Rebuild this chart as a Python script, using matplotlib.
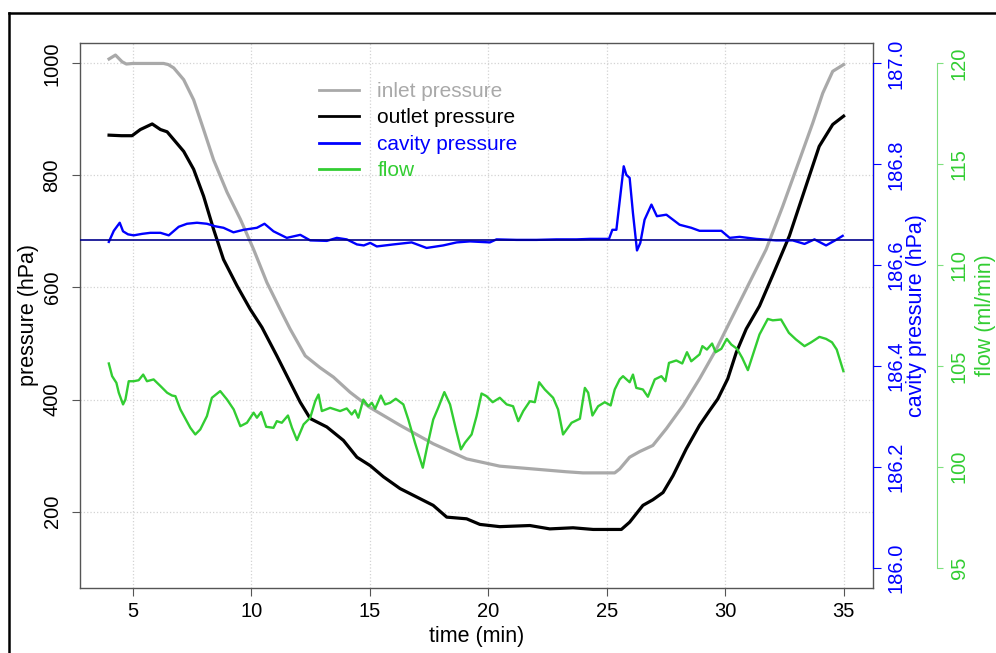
import matplotlib
matplotlib.use("Agg")
import matplotlib.pyplot as plt
from matplotlib.lines import Line2D
from matplotlib.ticker import FormatStrFormatter

plt.rcParams['font.family'] = ['Liberation Sans', 'DejaVu Sans']

# inlet pressure (hPa) over time (min)
t_inlet = [4.00, 4.27, 4.55, 4.73, 5.00, 6.30, 6.50, 6.73, 7.15, 7.57, 7.99, 8.41, 8.98,
           9.54, 10.10, 10.66, 11.22, 11.64, 12.28, 12.90, 13.47, 14.17, 15.00,
           16.28, 17.68, 19.09, 20.49, 21.90, 23.30, 24.00, 25.34, 25.55, 25.97,
           26.39, 26.95, 27.52, 28.22, 28.92, 29.63, 30.05, 31.03, 31.73, 32.43,
           33.14, 33.70, 34.12, 34.54, 35.00]
p_inlet = [1008, 1015, 1003, 999, 1000, 1000, 998, 992, 971, 935, 882, 828, 770,
           722, 668, 609, 561, 526, 478, 457, 440, 413, 386,
           354, 321, 294, 281, 276, 271, 269, 269, 276, 297,
           307, 318, 348, 389, 437, 490, 526, 609, 668, 745,
           828, 894, 947, 986, 998]

# outlet pressure (hPa)
t_outlet = [4.00, 4.52, 4.97, 5.32, 5.82, 6.17, 6.45, 6.73, 7.15, 7.57, 7.99, 8.41,
            8.83, 9.40, 9.96, 10.45, 11.08, 11.64, 12.07, 12.49, 13.19, 13.89,
            14.46, 15.02, 15.58, 16.28, 16.98, 17.68, 18.25, 19.09, 19.65, 20.49,
            21.76, 22.60, 23.58, 24.43, 25.62, 25.97, 26.53, 26.95, 27.38, 27.80,
            28.36, 28.92, 29.34, 29.69, 30.11, 30.47, 30.89, 31.45, 32.00, 32.71,
            33.41, 33.97, 34.54, 35.00]
p_outlet = [872, 871, 871, 882, 892, 882, 878, 864, 843, 811, 763, 704,
            650, 603, 561, 529, 478, 431, 395, 366, 351, 327,
            297, 282, 262, 241, 226, 211, 190, 187, 177, 173,
            175, 169, 171, 168, 168, 181, 211, 221, 234, 264,
            312, 354, 380, 401, 437, 484, 526, 567, 621, 692,
            781, 852, 891, 906]

# cavity pressure (hPa)
t_cavity = [3.99, 4.20, 4.45, 4.59, 4.80, 5.04, 5.40, 5.74, 6.17, 6.52, 6.94, 7.29,
            7.71, 8.13, 8.48, 8.83, 9.25, 9.68, 10.24, 10.56, 10.94, 11.50,
            12.07, 12.49, 13.19, 13.61, 14.03, 14.46, 14.75, 15.02, 15.30, 16.00,
            16.77, 17.40, 18.10, 18.67, 19.23, 20.07, 20.35, 21.20, 22.04, 22.88,
            23.73, 24.29, 25.10, 25.24, 25.41, 25.72, 25.83, 25.97, 26.11, 26.28,
            26.42, 26.60, 26.89, 27.12, 27.52, 28.08, 28.57, 28.92, 29.84, 30.19,
            30.61, 31.31, 32.15, 32.85, 33.35, 33.77, 34.26, 34.68, 34.96]
p_cavity = [186.646, 186.668, 186.684, 186.667, 186.661, 186.659, 186.662, 186.664,
            186.664, 186.659, 186.676, 186.682, 186.684, 186.682, 186.677, 186.674,
            186.665, 186.670, 186.674, 186.682, 186.667, 186.654, 186.660, 186.649,
            186.648, 186.654, 186.651, 186.641, 186.639, 186.644, 186.637, 186.641,
            186.645, 186.634, 186.639, 186.645, 186.647, 186.645, 186.651, 186.650,
            186.650, 186.651, 186.651, 186.652, 186.652, 186.670, 186.670, 186.796,
            186.779, 186.773, 186.703, 186.629, 186.644, 186.690, 186.720, 186.697,
            186.700, 186.680, 186.674, 186.668, 186.668, 186.654, 186.656, 186.652,
            186.649, 186.649, 186.642, 186.651, 186.639, 186.650, 186.658]
cavity_ref = 186.65

# flow (ml/min)
t_flow = [3.99, 4.13, 4.31, 4.41, 4.59, 4.69, 4.83, 5.04, 5.25, 5.44, 5.60, 5.88,
          6.17, 6.45, 6.66, 6.80, 7.01, 7.22, 7.43, 7.64, 7.85, 8.13, 8.34, 8.69,
          8.98, 9.26, 9.54, 9.82, 10.10, 10.24, 10.42, 10.63, 10.94, 11.08, 11.29,
          11.55, 11.72, 11.93, 12.21, 12.49, 12.70, 12.84, 12.98, 13.33, 13.75,
          14.03, 14.24, 14.38, 14.52, 14.73, 14.94, 15.09, 15.23, 15.47, 15.65,
          15.86, 16.10, 16.42, 16.63, 16.91, 17.24, 17.43, 17.68, 17.89, 18.15,
          18.39, 18.64, 18.85, 19.02, 19.30, 19.51, 19.72, 19.93, 20.19, 20.49,
          20.78, 21.05, 21.27, 21.48, 21.76, 21.97, 22.15, 22.39, 22.74, 22.95,
          23.16, 23.52, 23.87, 24.08, 24.22, 24.40, 24.64, 24.92, 25.17, 25.34,
          25.55, 25.69, 25.97, 26.11, 26.25, 26.53, 26.74, 27.03, 27.31, 27.48,
          27.63, 27.94, 28.19, 28.39, 28.57, 28.92, 29.04, 29.23, 29.45, 29.60,
          29.84, 30.07, 30.26, 30.50, 30.72, 30.96, 31.20, 31.45, 31.80, 32.01,
          32.36, 32.69, 32.99, 33.35, 33.63, 33.98, 34.26, 34.51, 34.71, 34.99]
flow = [105.12, 104.49, 104.16, 103.67, 103.09, 103.33, 104.24, 104.24, 104.29,
        104.57, 104.24, 104.33, 104.00, 103.67, 103.53, 103.50, 102.84, 102.38,
        101.93, 101.60, 101.85, 102.51, 103.42, 103.75, 103.33, 102.84, 102.01,
        102.18, 102.68, 102.43, 102.71, 101.98, 101.93, 102.26, 102.18, 102.54,
        101.93, 101.32, 102.10, 102.43, 103.25, 103.58, 102.76, 102.92, 102.76,
        102.89, 102.59, 102.80, 102.43, 103.33, 103.00, 103.17, 102.87, 103.53,
        103.09, 103.17, 103.37, 103.09, 102.34, 101.19, 99.95, 101.02, 102.34,
        102.92, 103.70, 103.09, 101.85, 100.86, 101.19, 101.60, 102.51, 103.63,
        103.50, 103.20, 103.42, 103.09, 103.00, 102.26, 102.76, 103.25, 103.20,
        104.19, 103.83, 103.42, 102.84, 101.60, 102.18, 102.38, 103.91, 103.67,
        102.54, 103.00, 103.20, 103.04, 103.83, 104.33, 104.49, 104.19, 104.57,
        103.91, 103.83, 103.47, 104.33, 104.49, 104.24, 105.15, 105.27, 105.12,
        105.68, 105.23, 105.57, 105.98, 105.81, 106.11, 105.68, 105.85, 106.34,
        106.06, 105.85, 105.40, 104.79, 105.65, 106.56, 107.33, 107.26, 107.30,
        106.64, 106.31, 105.98, 106.17, 106.44, 106.34, 106.17, 105.81, 104.74]

grey = '#a9a9a9'
green = '#32cd32'
box = '#555555'

fig = plt.figure(figsize=(9.96, 6.53), dpi=100)
ax = fig.add_axes([0.080, 0.100, 0.7965, 0.8337])

# pressure axis
ax.plot(t_inlet, p_inlet, color=grey, lw=2.3, label='inlet pressure')
ax.plot(t_outlet, p_outlet, color='black', lw=2.3, label='outlet pressure')
ax.set_xlim(2.76, 36.24)
ax.set_ylim(64, 1036)
ax.set_xticks(range(5, 36, 5))
ax.set_yticks(range(200, 1001, 200))
ax.grid(True, color='#d3d3d3', linestyle=':', linewidth=0.9)
ax.set_axisbelow(True)
for s in ax.spines.values():
    s.set_color(box)
    s.set_linewidth(1.0)
ax.tick_params(axis='both', labelsize=14.5, length=6, width=0.8, color=box)
ax.tick_params(axis='y', pad=7)
ax.tick_params(axis='x', pad=4)
plt.setp(ax.get_yticklabels(), rotation=90, va='center')
ax.set_xlabel('time (min)', fontsize=15.5)
ax.set_ylabel('pressure (hPa)', fontsize=15.5)
ax.xaxis.set_label_coords(0.5, -0.07)
ax.yaxis.set_label_coords(-0.065, 0.5)
ax.yaxis.label.set_va('center')

# cavity pressure axis
axc = ax.twinx()
axc.plot(t_cavity, p_cavity, color='blue', lw=1.7, label='cavity pressure')
axc.axhline(cavity_ref, color='#00008b', lw=1.2)
axc.set_ylim(185.96, 187.04)
axc.set_yticks([186.0, 186.2, 186.4, 186.6, 186.8, 187.0])
axc.yaxis.set_major_formatter(FormatStrFormatter('%.1f'))
for side in ['left', 'top', 'bottom']:
    axc.spines[side].set_visible(False)
axc.spines['right'].set_color('blue')
axc.spines['right'].set_linewidth(0.8)
axc.spines['right'].set_bounds(186.0, 187.0)
axc.tick_params(axis='y', colors='blue', labelsize=14.5, length=5.5, width=0.8, pad=4)
plt.setp(axc.get_yticklabels(), rotation=90, va='center')
axc.set_ylabel('cavity pressure (hPa)', fontsize=15.5, color='blue')
axc.yaxis.set_label_coords(1.0551, 0.5)
axc.yaxis.label.set_va('center')

# flow axis
axf = ax.twinx()
axf.plot(t_flow, flow, color=green, lw=1.7, label='flow')
axf.set_ylim(94, 121)
axf.set_yticks(range(95, 121, 5))
for side in ['left', 'top', 'bottom']:
    axf.spines[side].set_visible(False)
axf.spines['right'].set_position(('axes', 1.0803))
axf.spines['right'].set_color('#7fe07f')
axf.spines['right'].set_linewidth(0.8)
axf.spines['right'].set_bounds(95, 120)
axf.tick_params(axis='y', colors=green, labelsize=14.5, length=4, width=0.8, pad=5.5)
axf.tick_params(axis='y', color='#7fe07f')
plt.setp(axf.get_yticklabels(), rotation=90, va='center')
axf.set_ylabel('flow (ml/min)', fontsize=15.5, color=green)
axf.yaxis.set_label_coords(1.1412, 0.5)
axf.yaxis.label.set_va('center')

handles = ax.get_lines()[:2] + axc.get_lines()[:1] + axf.get_lines()[:1]
leg = axf.legend(handles, [h.get_label() for h in handles], loc='upper left',
                 bbox_to_anchor=(0.3017, 0.929), frameon=False, fontsize=15,
                 handlelength=1.9, handletextpad=0.9, labelspacing=0.36,
                 borderpad=0, borderaxespad=0)
for txt, h in zip(leg.get_texts(), handles):
    txt.set_color(h.get_color())
for line in leg.get_lines():
    line.set_linewidth(2.0)

# outer frame
fig.add_artist(Line2D([0.0095, 1.0], [0.9796, 0.9796], color='black', lw=1.8))
fig.add_artist(Line2D([0.0095, 0.0095], [0.0, 0.9796], color='black', lw=1.8))

fig.savefig('out.png', dpi=100)
